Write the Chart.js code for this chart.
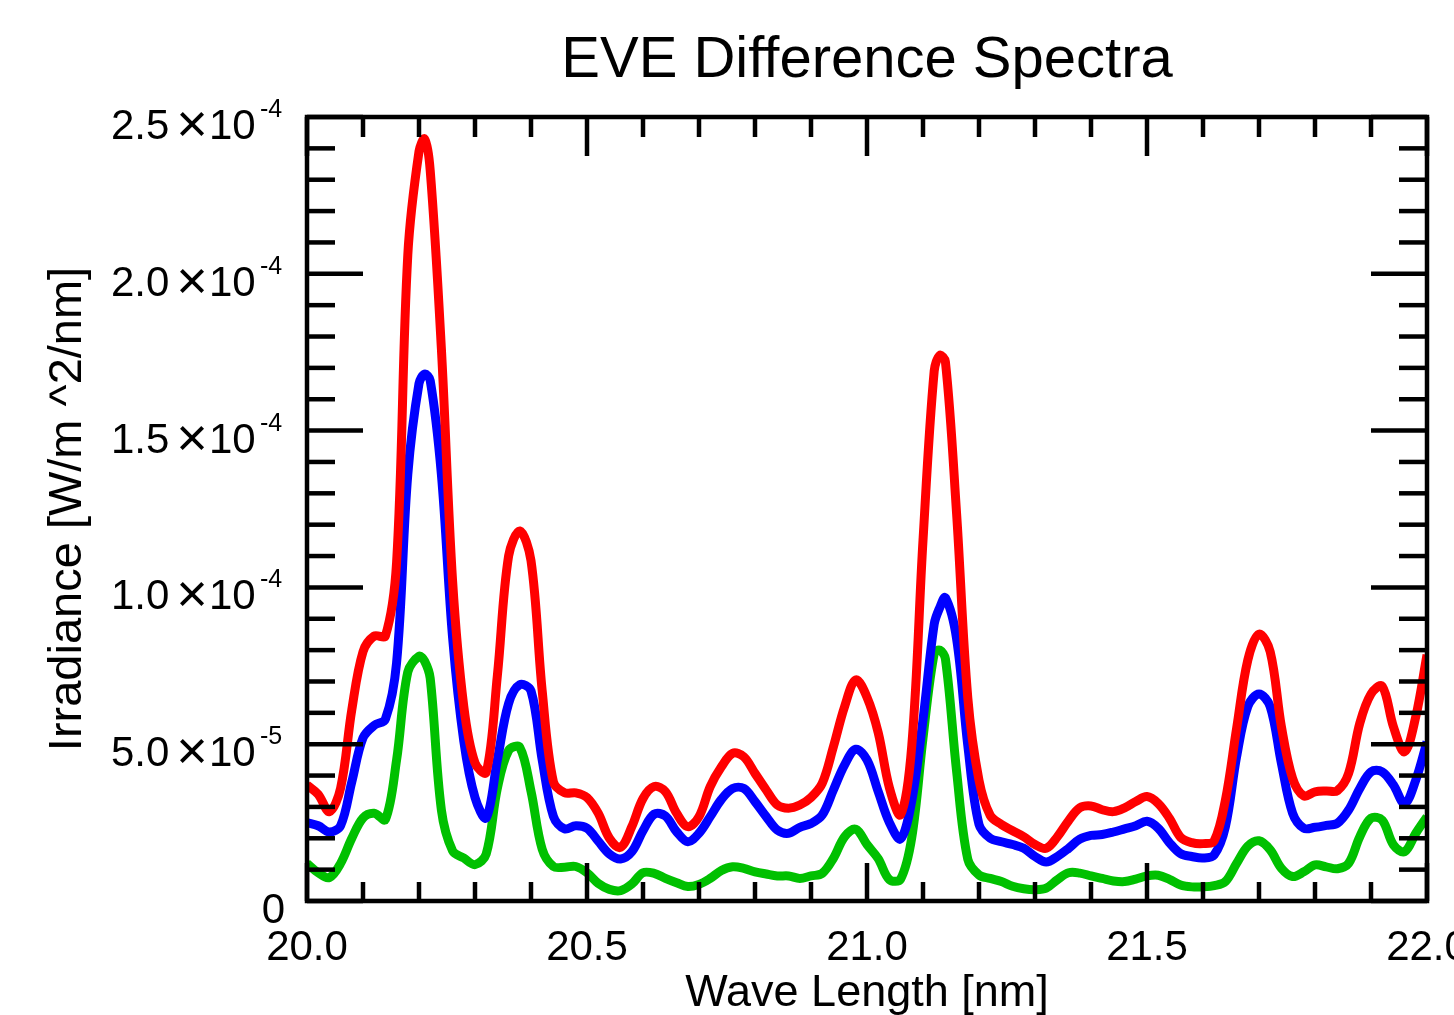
<!DOCTYPE html>
<html><head><meta charset="utf-8">
<script src="https://cdn.jsdelivr.net/npm/chart.js@4.4.0/dist/chart.umd.min.js"></script>
<style>html,body{margin:0;padding:0;background:#fff;}canvas{display:block;}</style>
</head><body>
<canvas id="c" width="1454" height="1015"></canvas>
<script>
const wavelength = [20.00,20.02,20.04,20.06,20.08,20.10,20.12,20.14,20.16,20.18,20.20,20.21,20.22,20.24,20.26,20.28,20.30,20.32,20.34,20.36,20.38,20.40,20.42,20.44,20.46,20.48,
20.50,20.52,20.54,20.56,20.58,20.60,20.62,20.64,20.66,20.68,20.70,20.72,20.74,20.76,20.78,20.80,20.82,20.84,20.86,20.88,20.90,20.92,20.94,20.96,20.98,
21.00,21.02,21.04,21.06,21.08,21.10,21.12,21.13,21.14,21.16,21.18,21.20,21.22,21.24,21.26,21.28,21.30,21.32,21.34,21.36,21.38,21.40,21.42,21.44,21.46,21.48,
21.50,21.52,21.54,21.56,21.58,21.60,21.62,21.64,21.66,21.68,21.70,21.72,21.74,21.76,21.78,21.80,21.82,21.84,21.86,21.88,21.90,21.92,21.94,21.96,21.98,22.00];

const irradianceRed = [3.7e-5,3.4e-5,2.85e-5,3.6e-5,6.1e-5,7.95e-5,8.45e-5,8.45e-5,10.8e-5,20.6e-5,23.9e-5,24.3e-5,23.3e-5,17.6e-5,10.2e-5,6.2e-5,4.4e-5,4.1e-5,7.2e-5,11.0e-5,11.8e-5,10.85e-5,6.7e-5,3.8e-5,3.45e-5,3.45e-5,
3.3e-5,2.8e-5,2.0e-5,1.71e-5,2.37e-5,3.27e-5,3.65e-5,3.49e-5,2.8e-5,2.37e-5,2.69e-5,3.65e-5,4.28e-5,4.71e-5,4.6e-5,4.07e-5,3.54e-5,3.06e-5,2.96e-5,3.06e-5,3.3e-5,3.75e-5,4.92e-5,6.2e-5,7.05e-5,
6.5e-5,5.37e-5,3.61e-5,2.75e-5,4.96e-5,11.5e-5,16.9e-5,17.4e-5,17.2e-5,12.35e-5,6.48e-5,3.85e-5,2.73e-5,2.44e-5,2.24e-5,2.05e-5,1.8e-5,1.68e-5,2.05e-5,2.56e-5,2.97e-5,3.03e-5,2.91e-5,2.85e-5,2.97e-5,3.17e-5,
3.33e-5,3.11e-5,2.64e-5,2.03e-5,1.86e-5,1.83e-5,1.92e-5,3.22e-5,5.5e-5,7.68e-5,8.51e-5,7.95e-5,5.56e-5,3.91e-5,3.35e-5,3.48e-5,3.51e-5,3.52e-5,4.07e-5,5.67e-5,6.6e-5,6.85e-5,5.56e-5,4.76e-5,5.88e-5,7.85e-5];

const irradianceBlue = [2.5e-5,2.4e-5,2.2e-5,2.4e-5,3.8e-5,5.2e-5,5.6e-5,5.8e-5,7.6e-5,13.6e-5,16.5e-5,16.8e-5,16.6e-5,13.6e-5,8.4e-5,5.1e-5,3.3e-5,2.65e-5,4.5e-5,6.3e-5,6.9e-5,6.7e-5,4.5e-5,2.7e-5,2.3e-5,2.4e-5,
2.32e-5,1.91e-5,1.5e-5,1.34e-5,1.57e-5,2.24e-5,2.77e-5,2.71e-5,2.21e-5,1.89e-5,2.16e-5,2.69e-5,3.24e-5,3.59e-5,3.59e-5,3.17e-5,2.69e-5,2.26e-5,2.16e-5,2.35e-5,2.47e-5,2.74e-5,3.54e-5,4.34e-5,4.84e-5,
4.5e-5,3.49e-5,2.5e-5,1.98e-5,3.2e-5,5.78e-5,8.83e-5,9.36e-5,9.67e-5,8.36e-5,4.96e-5,2.44e-5,2.0e-5,1.89e-5,1.8e-5,1.68e-5,1.42e-5,1.24e-5,1.42e-5,1.68e-5,1.97e-5,2.09e-5,2.12e-5,2.2e-5,2.3e-5,2.4e-5,
2.54e-5,2.32e-5,1.86e-5,1.51e-5,1.42e-5,1.37e-5,1.47e-5,2.37e-5,4.6e-5,6.2e-5,6.6e-5,6.2e-5,4.39e-5,2.8e-5,2.32e-5,2.35e-5,2.41e-5,2.48e-5,2.9e-5,3.59e-5,4.12e-5,4.12e-5,3.7e-5,3.11e-5,3.86e-5,5.08e-5];

const irradianceGreen = [1.2e-5,0.9e-5,0.75e-5,1.2e-5,2.0e-5,2.65e-5,2.8e-5,2.6e-5,4.5e-5,7.3e-5,7.8e-5,7.65e-5,7.1e-5,2.9e-5,1.6e-5,1.37e-5,1.16e-5,1.5e-5,3.6e-5,4.8e-5,4.9e-5,3.5e-5,1.65e-5,1.1e-5,1.08e-5,1.1e-5,
0.9e-5,0.56e-5,0.37e-5,0.33e-5,0.54e-5,0.9e-5,0.88e-5,0.72e-5,0.58e-5,0.46e-5,0.53e-5,0.72e-5,0.97e-5,1.09e-5,1.04e-5,0.93e-5,0.86e-5,0.8e-5,0.8e-5,0.72e-5,0.8e-5,0.88e-5,1.36e-5,2.05e-5,2.29e-5,
1.8e-5,1.35e-5,0.68e-5,0.7e-5,2.03e-5,5.19e-5,7.89e-5,8.0e-5,7.72e-5,4.14e-5,1.33e-5,0.83e-5,0.72e-5,0.62e-5,0.47e-5,0.39e-5,0.36e-5,0.41e-5,0.68e-5,0.9e-5,0.89e-5,0.8e-5,0.72e-5,0.64e-5,0.62e-5,0.7e-5,
0.8e-5,0.82e-5,0.69e-5,0.51e-5,0.45e-5,0.45e-5,0.49e-5,0.62e-5,1.2e-5,1.75e-5,1.92e-5,1.63e-5,1.04e-5,0.78e-5,0.93e-5,1.15e-5,1.09e-5,1.03e-5,1.2e-5,2.05e-5,2.64e-5,2.58e-5,1.79e-5,1.57e-5,2.16e-5,2.69e-5];

const yTickValues = [0, 5e-5, 1e-4, 1.5e-4, 2e-4, 2.5e-4];
const yTickMantissa = ["0", "5.0", "1.0", "1.5", "2.0", "2.5"];
const yTickExponent = ["", "-5", "-4", "-4", "-4", "-4"];
const xTickValues = [20.0, 20.5, 21.0, 21.5, 22.0];
const xTickLabels = ["20.0", "20.5", "21.0", "21.5", "22.0"];
const yMinorStep = 1e-5;
const xMinorStep = 0.1;

const titleText = "EVE Difference Spectra";
const xTitle = "Wave Length [nm]";
const yTitle = "Irradiance [W/m ^2/nm]";

const FONT = '"Liberation Sans", Arial, Helvetica, sans-serif';

function pts(ys) { return wavelength.map((x, i) => ({x: x, y: ys[i]})); }

const axesPlugin = {
  id: 'idlAxes',
  afterDraw(chart) {
    const ctx = chart.ctx, a = chart.chartArea;
    const xs = chart.scales.x, ys = chart.scales.y;
    ctx.save();
    ctx.strokeStyle = '#000';
    ctx.fillStyle = '#000';
    ctx.lineWidth = 4.5;
    ctx.lineCap = 'butt';
    const line = (x1, y1, x2, y2) => { ctx.beginPath(); ctx.moveTo(x1, y1); ctx.lineTo(x2, y2); ctx.stroke(); };
    const nY = Math.round((ys.max - ys.min) / yMinorStep);
    for (let i = 0; i <= nY; i++) {
      const v = ys.min + i * yMinorStep;
      const py = ys.getPixelForValue(v);
      const major = yTickValues.some(t => Math.abs(t - v) < 1e-9);
      const L = major ? 56 : 28;
      line(a.left, py, a.left + L, py);
      line(a.right, py, a.right - L, py);
    }
    const nX = Math.round((xs.max - xs.min) / xMinorStep);
    for (let i = 0; i <= nX; i++) {
      const v = xs.min + i * xMinorStep;
      const px = xs.getPixelForValue(v);
      const major = xTickValues.some(t => Math.abs(t - v) < 1e-6);
      line(px, a.top, px, a.top + (major ? 39 : 20));
      line(px, a.bottom, px, a.bottom - (major ? 38 : 19));
    }
    ctx.lineJoin = 'miter';
    ctx.strokeRect(a.left, a.top, a.right - a.left, a.bottom - a.top);

    const R = 283;
    ctx.textBaseline = 'alphabetic';
    yTickValues.forEach((v, i) => {
      const py = ys.getPixelForValue(v);
      const base = py + 22;
      ctx.font = '42px ' + FONT;
      if (!yTickExponent[i]) {
        ctx.textAlign = 'right';
        ctx.fillText(yTickMantissa[i], R + 2, base);
        return;
      }
      ctx.textAlign = 'left';
      ctx.fillText(yTickMantissa[i], R - 172, base);
      ctx.fillText('10', R - 74, base);
      ctx.font = '54px ' + FONT;
      ctx.textAlign = 'center';
      ctx.fillText('\u00D7', R - 91, base + 3);
      ctx.font = '25px ' + FONT;
      ctx.textAlign = 'left';
      ctx.fillText(yTickExponent[i], R - 23, py + 0);
    });
    ctx.font = '42px ' + FONT;
    ctx.textAlign = 'center';
    xTickValues.forEach((v, i) => {
      ctx.fillText(xTickLabels[i], xs.getPixelForValue(v), a.bottom + 59);
    });
    ctx.font = '45px ' + FONT;
    ctx.textAlign = 'center';
    ctx.fillText(xTitle, (a.left + a.right) / 2, 1006);
    ctx.save();
    ctx.font = '47px ' + FONT;
    ctx.translate(81, (a.top + a.bottom) / 2);
    ctx.rotate(-Math.PI / 2);
    ctx.fillText(yTitle, 0, 0);
    ctx.restore();
    ctx.restore();
  }
};

const ds = (label, data, color) => ({
  label: label, data: pts(data), borderColor: color, backgroundColor: color,
  borderWidth: 9, pointRadius: 0, fill: false, tension: 0.35, borderJoinStyle: 'round'
});

new Chart(document.getElementById('c'), {
  type: 'line',
  data: {
    datasets: [
      ds('Red', irradianceRed, '#ff0000'),
      ds('Blue', irradianceBlue, '#0000ff'),
      ds('Green', irradianceGreen, '#00c000')
    ]
  },
  options: {
    responsive: false,
    devicePixelRatio: 1,
    animation: false,
    layout: { padding: { left: 307, right: 27, top: 0, bottom: 114 } },
    plugins: {
      legend: { display: false },
      tooltip: { enabled: false },
      title: {
        display: true, text: titleText, color: '#000',
        font: { family: FONT, size: 58, weight: 'normal', lineHeight: 1.2 },
        padding: { top: 26, bottom: 21.4 }
      }
    },
    scales: {
      x: { type: 'linear', min: 20, max: 22, display: false },
      y: { type: 'linear', min: 0, max: 2.5e-4, display: false }
    }
  },
  plugins: [axesPlugin]
});
</script>
</body></html>
